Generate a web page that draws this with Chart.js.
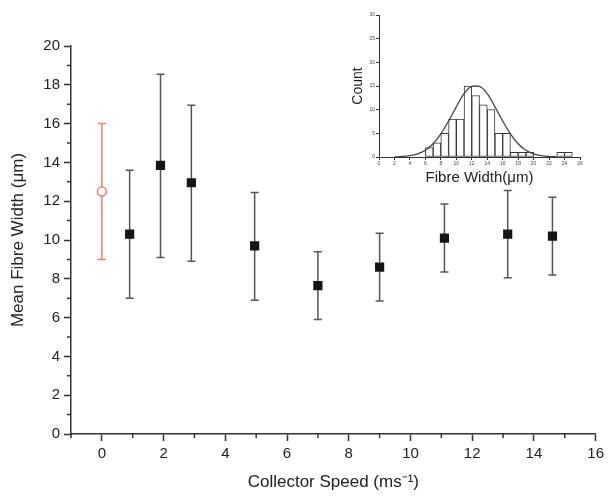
<!DOCTYPE html>
<html lang="en">
<head>
<meta charset="UTF-8">
<title>Mean Fibre Width vs Collector Speed</title>
<script src="https://cdn.jsdelivr.net/npm/chart.js@4/dist/chart.umd.min.js"></script>
<style>
  html, body { margin: 0; padding: 0; background: #fff; }
  #wrap { position: relative; width: 608px; height: 497px; }
  #mainChart { position: absolute; left: 0; top: 0; }
  #insetChart { position: absolute; left: 330px; top: 0; }
</style>
</head>
<body>
<div id="wrap">
  <canvas id="mainChart" width="608" height="497"></canvas>
  <canvas id="insetChart" width="278" height="190"></canvas>
</div>
<script>
// main plot: collector speed vs mean fibre width, with error bars
const speeds = [0.9, 1.9, 2.9, 4.95, 7.0, 9.0, 11.1, 13.15, 14.6];
const meanWidth = [10.3, 13.85, 12.95, 9.7, 7.65, 8.6, 10.1, 10.3, 10.2];
const widthLow = [7.0, 9.1, 8.9, 6.9, 5.9, 6.85, 8.35, 8.05, 8.2];
const widthHigh = [13.6, 18.55, 16.95, 12.45, 9.4, 10.35, 11.85, 12.55, 12.2];

// the static (0 ms-1) sample, drawn in red
const refSpeed = [0];
const refWidth = [12.5];
const refLow = [9.0];
const refHigh = [16.0];

const xTicks = [0, 2, 4, 6, 8, 10, 12, 14, 16];
const yTicks = [0, 2, 4, 6, 8, 10, 12, 14, 16, 18, 20];

// inset histogram
const binCentres = [6.5, 7.5, 8.5, 9.5, 10.5, 11.5, 12.5, 13.5, 14.5, 15.5, 16.5, 17.5, 18.5, 19.5, 20.5, 21.5, 22.5, 23.5, 24.5];
const binCounts = [2, 3, 5, 8, 8, 15, 13, 11, 10, 5, 5, 1, 1, 1, 0, 0, 0, 1, 1];
const fitX = [2, 4, 5, 6, 7, 8, 9, 10, 11, 12, 12.5, 13, 14, 15, 16, 17, 18, 19, 20, 21, 22, 23];
const fitY = [0.03, 0.27, 0.66, 1.43, 2.8, 4.9, 7.6, 10.6, 13.4, 14.9, 15, 14.9, 13.4, 10.6, 7.6, 4.9, 2.8, 1.43, 0.66, 0.27, 0.1, 0.03];
const insetXTicks = [0, 2, 4, 6, 8, 10, 12, 14, 16, 18, 20, 22, 24, 26];
const insetYTicks = [0, 5, 10, 15, 20, 25, 30];

const FONT = "'Liberation Sans', Arial, sans-serif";
const AXIS = '#333';

const errorBars = {
  id: 'errorBars',
  beforeDatasetsDraw(chart) {
    const ctx = chart.ctx;
    const xs = chart.scales.x, ys = chart.scales.y;
    chart.data.datasets.forEach(ds => {
      if (!ds.errLow) return;
      ctx.save();
      ctx.strokeStyle = ds.errColor;
      ctx.lineWidth = 1.5;
      ds.data.forEach((p, i) => {
        const px = xs.getPixelForValue(p.x);
        const top = ys.getPixelForValue(ds.errHigh[i]);
        const bot = ys.getPixelForValue(ds.errLow[i]);
        ctx.beginPath();
        ctx.moveTo(px, top); ctx.lineTo(px, bot);
        ctx.moveTo(px - 4, top); ctx.lineTo(px + 4, top);
        ctx.moveTo(px - 4, bot); ctx.lineTo(px + 4, bot);
        ctx.stroke();
      });
      ctx.restore();
    });
  }
};

// small ticks at the odd values
const minorTicks = {
  id: 'minorTicks',
  afterDraw(chart) {
    const ctx = chart.ctx;
    const xs = chart.scales.x, ys = chart.scales.y;
    ctx.save();
    ctx.strokeStyle = AXIS;
    ctx.lineWidth = 1.5;
    ctx.beginPath();
    for (let v = -1; v <= 15; v += 2) {
      const px = xs.getPixelForValue(v);
      ctx.moveTo(px, ys.bottom); ctx.lineTo(px, ys.bottom + 4);
    }
    for (let v = 1; v <= 19; v += 2) {
      const py = ys.getPixelForValue(v);
      ctx.moveTo(xs.left, py); ctx.lineTo(xs.left - 4, py);
    }
    ctx.stroke();
    ctx.restore();
  }
};

new Chart(document.getElementById('mainChart'), {
  type: 'scatter',
  data: {
    datasets: [{
      data: refSpeed.map((x, i) => ({ x: x, y: refWidth[i] })),
      errLow: refLow, errHigh: refHigh, errColor: '#e8836f',
      pointStyle: 'circle', pointRadius: 4.5,
      backgroundColor: '#fff', borderColor: '#e8836f', borderWidth: 1.5
    }, {
      data: speeds.map((x, i) => ({ x: x, y: meanWidth[i] })),
      errLow: widthLow, errHigh: widthHigh, errColor: '#555',
      pointStyle: 'rect', pointRadius: 6.5,
      backgroundColor: '#151515', borderColor: '#151515', borderWidth: 0
    }]
  },
  options: {
    responsive: false,
    animation: false,
    layout: { padding: { top: 46, right: 0, left: 0, bottom: 0 } },
    plugins: { legend: { display: false }, tooltip: { enabled: false } },
    scales: {
      x: {
        type: 'linear', min: -1, max: 16,
        afterBuildTicks: s => { s.ticks = xTicks.map(v => ({ value: v })); },
        afterFit: s => { s.height = 63; },
        border: { color: AXIS, width: 1.5 },
        grid: { drawOnChartArea: false, tickLength: 7, tickColor: AXIS, tickWidth: 1.5 },
        ticks: { color: '#222', font: { family: FONT, size: 15 }, padding: 4, maxRotation: 0 },
        title: { display: true, text: 'Collector Speed (ms\u207B\u00B9)', color: '#222', font: { family: FONT, size: 17 }, padding: { top: 6 } }
      },
      y: {
        min: 0, max: 20,
        afterBuildTicks: s => { s.ticks = yTicks.map(v => ({ value: v })); },
        afterFit: s => { s.width = 71; },
        border: { color: AXIS, width: 1.5 },
        grid: { drawOnChartArea: false, tickLength: 7, tickColor: AXIS, tickWidth: 1.5 },
        ticks: { color: '#222', font: { family: FONT, size: 15 }, padding: 4 },
        title: { display: true, text: 'Mean Fibre Width (\u03BCm)', color: '#222', font: { family: FONT, size: 17 }, padding: { top: 8, bottom: 0 } }
      }
    }
  },
  plugins: [errorBars, minorTicks]
});

// inset: fibre width distribution
new Chart(document.getElementById('insetChart'), {
  data: {
    datasets: [{
      type: 'line',
      data: fitX.map((x, i) => ({ x: x, y: fitY[i] })),
      borderColor: '#444', borderWidth: 1.3, pointRadius: 0,
      cubicInterpolationMode: 'monotone', fill: false
    }, {
      type: 'bar',
      data: binCentres.map((x, i) => ({ x: x, y: binCounts[i] })),
      backgroundColor: '#fff', borderColor: '#333', borderWidth: 1,
      barPercentage: 1, categoryPercentage: 1, borderSkipped: false
    }]
  },
  options: {
    responsive: false,
    animation: false,
    layout: { padding: { top: 15, right: 28, left: 0, bottom: 0 } },
    plugins: { legend: { display: false }, tooltip: { enabled: false } },
    scales: {
      x: {
        type: 'linear', min: 0, max: 26, offset: false,
        afterBuildTicks: s => { s.ticks = insetXTicks.map(v => ({ value: v })); },
        afterFit: s => { s.height = 33; },
        border: { color: '#333', width: 1 },
        grid: { drawOnChartArea: false, tickLength: 3, tickColor: '#333', offset: false },
        ticks: { color: '#444', font: { family: FONT, size: 5 }, padding: 1, maxRotation: 0 },
        title: { display: true, text: 'Fibre Width(\u03BCm)', color: '#222', font: { family: FONT, size: 15 }, padding: { top: 2, bottom: 3 } }
      },
      y: {
        min: 0, max: 30,
        afterBuildTicks: s => { s.ticks = insetYTicks.map(v => ({ value: v })); },
        afterFit: s => { s.width = 49; },
        border: { color: '#333', width: 1 },
        grid: { drawOnChartArea: false, tickLength: 3, tickColor: '#333' },
        ticks: { color: '#444', font: { family: FONT, size: 5 }, padding: 1 },
        title: { display: true, text: 'Count', color: '#222', font: { family: FONT, size: 14 }, padding: { top: 20 } }
      }
    }
  }
});
</script>
</body>
</html>
